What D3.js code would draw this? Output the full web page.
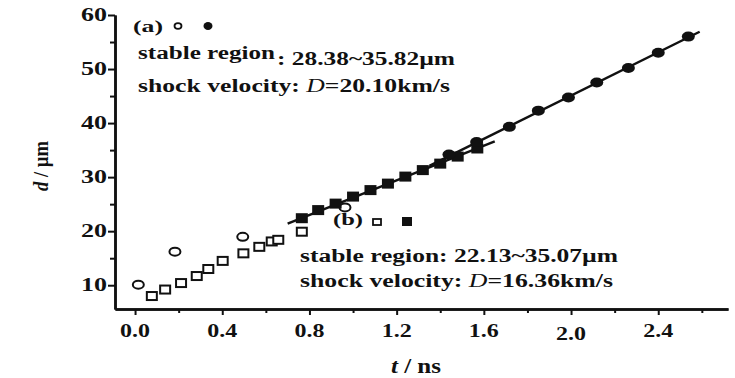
<!DOCTYPE html>
<html><head><meta charset="utf-8">
<script src="https://cdn.jsdelivr.net/npm/d3@7/dist/d3.min.js"></script>
<style>
html,body{margin:0;padding:0;background:#fff;}
svg text{font-family:"Liberation Serif","Times New Roman",serif;font-weight:bold;fill:#111;}
</style></head>
<body><svg id="c" width="735" height="378"></svg>
<script>
// ---- data ----
const openCircleT = [0.015, 0.183, 0.494, 0.963];
const openCircleD = [10.1, 16.2, 18.95, 24.4];
const openSquareT = [0.077, 0.138, 0.211, 0.283, 0.336, 0.402, 0.497, 0.570, 0.627, 0.657, 0.765];
const openSquareD = [8.0, 9.2, 10.4, 11.7, 13.0, 14.5, 15.9, 17.1, 18.1, 18.4, 19.9];
const filledSquareT = [0.765, 0.84, 0.92, 1.00, 1.08, 1.16, 1.24, 1.32, 1.40, 1.48, 1.57];
const filledSquareD = [22.4, 23.9, 25.1, 26.4, 27.6, 28.8, 30.1, 31.3, 32.5, 33.8, 35.3];
const filledCircleT = [1.44, 1.567, 1.717, 1.85, 1.988, 2.118, 2.263, 2.40, 2.538];
const filledCircleD = [34.2, 36.5, 39.3, 42.3, 44.75, 47.5, 50.2, 53.0, 56.0];
const fitAT = [1.35, 2.59];
const fitAD = [32.1, 56.9];
const fitBT = [0.70, 1.65];
const fitBD = [21.4, 36.6];
const xTicks = [0.0, 0.4, 0.8, 1.2, 1.6, 2.0, 2.4];
const xTickLabels = ["0.0", "0.4", "0.8", "1.2", "1.6", "2.0", "2.4"];
const xMinor = [0.2, 0.6, 1.0, 1.4, 1.8, 2.2, 2.6];
const yTicks = [10, 20, 30, 40, 50, 60];
const yTickLabels = ["10", "20", "30", "40", "50", "60"];
const yMinor = [15, 25, 35, 45, 55];

const svg = d3.select("#c");
const x = d3.scaleLinear().domain([-0.092, 2.72]).range([115, 728]);
const y = d3.scaleLinear().domain([5.6, 60]).range([309, 15]);
const ink = "#111";

// axes
const xAxisG = svg.append("g").attr("transform", `translate(0,${y(5.6)})`);
xAxisG.call(d3.axisBottom(x).tickValues(xTicks).tickFormat("").tickSize(6).tickSizeOuter(0));
xAxisG.append("g").call(d3.axisBottom(x).tickValues(xMinor).tickFormat("").tickSize(4).tickSizeOuter(0));
const yAxisG = svg.append("g").attr("transform", `translate(${x(-0.092)},0)`);
yAxisG.call(d3.axisLeft(y).tickValues(yTicks).tickFormat("").tickSize(7).tickSizeOuter(0));
yAxisG.append("g").call(d3.axisLeft(y).tickValues(yMinor).tickFormat("").tickSize(5).tickSizeOuter(0));
svg.selectAll(".domain").attr("stroke", ink).attr("stroke-width", 2.5);
svg.selectAll(".tick line").attr("stroke", ink).attr("stroke-width", 2);

function label(txt, px, py, w, size, anchor) {
  const t = svg.append("text").attr("x", px).attr("y", py)
    .attr("font-size", size).attr("text-anchor", anchor || "start").text(txt);
  if (w) t.attr("textLength", w).attr("lengthAdjust", "spacingAndGlyphs");
  return t;
}
xTicks.forEach((v, i) => label(xTickLabels[i], x(v), 337 + (xTickLabels[i] === "2.0" ? 3 : 0), 30, 18, "middle"));
yTicks.forEach((v, i) => label(yTickLabels[i], 107, y(v) + 6, 26, 18, "end"));

// axis titles
const yt = svg.append("text").attr("transform", "translate(48,166) rotate(-90)")
  .attr("text-anchor", "middle").attr("font-size", 20)
  .attr("textLength", 50).attr("lengthAdjust", "spacingAndGlyphs");
yt.append("tspan").attr("font-style", "italic").text("d");
yt.append("tspan").text(" / µm");
const xt = svg.append("text").attr("x", 416).attr("y", 373).attr("text-anchor", "middle").attr("font-size", 20)
  .attr("textLength", 50).attr("lengthAdjust", "spacingAndGlyphs");
xt.append("tspan").attr("font-style", "italic").text("t");
xt.append("tspan").text(" / ns");

// markers
const mk = (T, D) => T.map((t, i) => ({t, d: D[i]}));
svg.append("g").selectAll("rect").data(mk(openSquareT, openSquareD)).join("rect")
  .attr("x", p => x(p.t) - 5).attr("y", p => y(p.d) - 4).attr("width", 10).attr("height", 8)
  .attr("fill", "#fff").attr("stroke", ink).attr("stroke-width", 2);
svg.append("g").selectAll("ellipse").data(mk(openCircleT, openCircleD)).join("ellipse")
  .attr("cx", p => x(p.t)).attr("cy", p => y(p.d)).attr("rx", 5.5).attr("ry", 4)
  .attr("fill", "#fff").attr("stroke", ink).attr("stroke-width", 2);

const line = d3.line().x(p => x(p.t)).y(p => y(p.d));
svg.append("path").datum(mk(fitBT, fitBD)).attr("d", line).attr("stroke", ink).attr("stroke-width", 2.5).attr("fill", "none");
svg.append("path").datum(mk(fitAT, fitAD)).attr("d", line).attr("stroke", ink).attr("stroke-width", 2.5).attr("fill", "none");

svg.append("g").selectAll("rect").data(mk(filledSquareT, filledSquareD)).join("rect")
  .attr("x", p => x(p.t) - 6).attr("y", p => y(p.d) - 5).attr("width", 12).attr("height", 10)
  .attr("fill", ink);
svg.append("g").selectAll("ellipse").data(mk(filledCircleT, filledCircleD)).join("ellipse")
  .attr("cx", p => x(p.t)).attr("cy", p => y(p.d)).attr("rx", 6.5).attr("ry", 5)
  .attr("fill", ink);

// annotations (a)
label("(a)", 133, 32, 30, 17);
svg.append("ellipse").attr("cx", 178).attr("cy", 26).attr("rx", 3.5).attr("ry", 2.8).attr("fill", "#fff").attr("stroke", ink).attr("stroke-width", 1.8);
svg.append("ellipse").attr("cx", 208).attr("cy", 26).attr("rx", 4.5).attr("ry", 4).attr("fill", ink);
label("stable region", 138, 59, 137, 18);
label(": 28.38~35.82µm", 277, 65, 178, 18);
const sa = svg.append("text").attr("x", 138).attr("y", 92).attr("font-size", 18)
  .attr("textLength", 312).attr("lengthAdjust", "spacingAndGlyphs");
sa.append("tspan").text("shock velocity: ");
sa.append("tspan").attr("font-style", "italic").attr("font-weight", "normal").text("D");
sa.append("tspan").text("=20.10km/s");

// annotations (b)
label("(b)", 333, 225, 30, 17);
svg.append("rect").attr("x", 373).attr("y", 219).attr("width", 8).attr("height", 6).attr("fill", "#fff").attr("stroke", ink).attr("stroke-width", 1.8);
svg.append("rect").attr("x", 402).attr("y", 217).attr("width", 10).attr("height", 9).attr("fill", ink);
label("stable region: 22.13~35.07µm", 300, 262, 318, 18);
const sb = svg.append("text").attr("x", 300).attr("y", 287).attr("font-size", 18)
  .attr("textLength", 313).attr("lengthAdjust", "spacingAndGlyphs");
sb.append("tspan").text("shock velocity: ");
sb.append("tspan").attr("font-style", "italic").attr("font-weight", "normal").text("D");
sb.append("tspan").text("=16.36km/s");
</script></body></html>
